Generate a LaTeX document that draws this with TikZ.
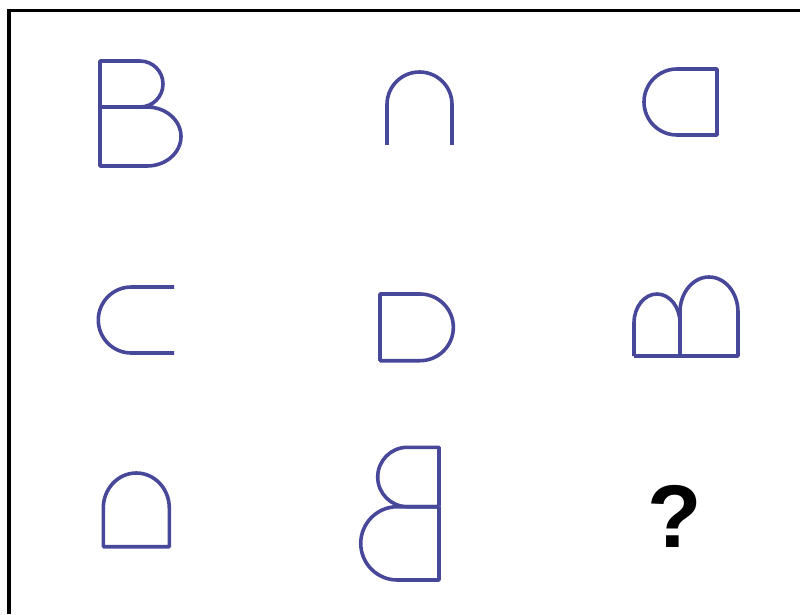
\documentclass[tikz,border=0pt]{standalone}
\usepackage{fontspec}
\setmainfont{Liberation Sans}
\definecolor{shapeblue}{RGB}{72,72,155}
\begin{document}
\begin{tikzpicture}[x=1pt,y=1pt,
  figline/.style={draw=shapeblue,line width=3.6pt,line join=round},
  frameline/.style={draw=black,line width=3.2pt}]
\useasboundingbox (0,0) rectangle (800,614);
% frame
\draw[frameline] (9,0) -- (9,603.5) -- (800,603.5);
% row 1: B
\draw[figline] (100,507) -- (147,507) arc[start angle=90,end angle=-90,x radius=34,y radius=29.5] -- (100,448) -- (100,553) -- (140,553) arc[start angle=90,end angle=-90,radius=23];
% row 1: arch open
\draw[figline] (387,469) -- (387,509.5) arc[start angle=180,end angle=0,radius=32.5] -- (452,469);
% row 1: reversed D
\draw[figline] (677,545) -- (717,545) -- (717,479) -- (677,479) arc[start angle=270,end angle=90,radius=33] -- cycle;
% row 2: C
\draw[figline] (174,327) -- (131.3,327) arc[start angle=90,end angle=270,radius=33] -- (174,261);
% row 2: D
\draw[figline] (380,253.3) -- (380,320) -- (420,320) arc[start angle=90,end angle=-90,radius=33.35] -- cycle;
% row 2: double arch
\draw[figline] (634,258) -- (738,258) -- (738,302) arc[start angle=0,end angle=180,x radius=29,y radius=35] -- (680,258);
\draw[figline] (634,258) -- (634,291) arc[start angle=180,end angle=0,x radius=23,y radius=29];
% row 3: closed arch
\draw[figline] (103.3,67.3) -- (103.3,106) arc[start angle=180,end angle=0,x radius=33,y radius=35] -- (169.3,67.3) -- cycle;
% row 3: reversed B
\draw[figline] (439,107.3) -- (439,166.7) -- (407.4,166.7) arc[start angle=90,end angle=270,radius=29.7] -- (439,107.3);
\draw[figline] (439,107.3) -- (397.4,107.3) arc[start angle=90,end angle=270,radius=36.65] -- (439,34) -- (439,107.3);
% question mark
\node[anchor=base,inner sep=0pt,font=\fontsize{89}{89}\selectfont\bfseries] (q) at (675,66.3) {?};
\end{tikzpicture}
\end{document}
